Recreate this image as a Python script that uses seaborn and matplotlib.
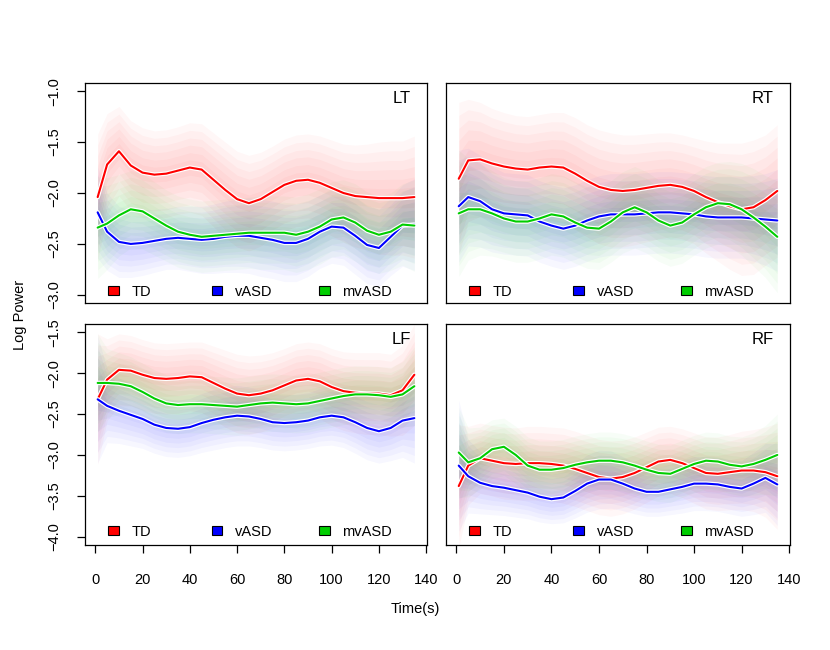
import numpy as np
import pandas as pd
import matplotlib.pyplot as plt
import matplotlib.patheffects as pe
from matplotlib.patches import Patch
import seaborn as sns

# time axis (s)
time_s = [1, 5, 10, 15, 20, 25, 30, 35, 40, 45, 50, 55, 60, 65, 70,
          75, 80, 85, 90, 95, 100, 105, 110, 115, 120, 125, 130, 135]

groups = ["TD", "vASD", "mvASD"]
panels = ["LT", "RT", "LF", "RF"]

# mean log power per group / panel
lt_td = [-2.04, -1.72, -1.59, -1.73, -1.80, -1.82, -1.81, -1.78, -1.75, -1.77, -1.87, -1.97, -2.06, -2.10,
         -2.06, -1.99, -1.92, -1.88, -1.87, -1.90, -1.95, -2.00, -2.03, -2.04, -2.05, -2.05, -2.05, -2.04]
lt_vasd = [-2.19, -2.38, -2.48, -2.50, -2.49, -2.47, -2.45, -2.44, -2.45, -2.46, -2.45, -2.43, -2.42, -2.42,
           -2.44, -2.46, -2.49, -2.49, -2.45, -2.38, -2.33, -2.34, -2.42, -2.51, -2.54, -2.43, -2.32, -2.31]
lt_mvasd = [-2.34, -2.30, -2.22, -2.16, -2.18, -2.25, -2.32, -2.38, -2.41, -2.43, -2.42, -2.41, -2.40, -2.39,
            -2.39, -2.39, -2.39, -2.41, -2.38, -2.33, -2.26, -2.24, -2.29, -2.37, -2.41, -2.38, -2.31, -2.32]

rt_td = [-1.86, -1.68, -1.67, -1.71, -1.74, -1.76, -1.77, -1.75, -1.74, -1.75, -1.81, -1.88, -1.94, -1.97,
         -1.98, -1.97, -1.95, -1.93, -1.92, -1.94, -1.98, -2.04, -2.09, -2.13, -2.16, -2.14, -2.07, -1.98]
rt_vasd = [-2.13, -2.04, -2.08, -2.16, -2.20, -2.21, -2.22, -2.28, -2.32, -2.35, -2.32, -2.27, -2.23, -2.21,
           -2.21, -2.21, -2.20, -2.19, -2.19, -2.20, -2.21, -2.23, -2.24, -2.24, -2.24, -2.25, -2.26, -2.27]
rt_mvasd = [-2.20, -2.16, -2.16, -2.20, -2.25, -2.28, -2.28, -2.25, -2.21, -2.23, -2.29, -2.34, -2.35, -2.28,
            -2.19, -2.14, -2.19, -2.27, -2.32, -2.29, -2.21, -2.14, -2.10, -2.11, -2.16, -2.24, -2.33, -2.43]

lf_td = [-2.32, -2.08, -1.96, -1.97, -2.02, -2.06, -2.07, -2.06, -2.04, -2.05, -2.12, -2.19, -2.25, -2.27,
         -2.25, -2.21, -2.15, -2.09, -2.07, -2.10, -2.17, -2.22, -2.24, -2.25, -2.25, -2.27, -2.21, -2.02]
lf_vasd = [-2.32, -2.40, -2.46, -2.51, -2.56, -2.63, -2.67, -2.68, -2.66, -2.61, -2.57, -2.54, -2.52, -2.53,
           -2.56, -2.60, -2.61, -2.60, -2.58, -2.54, -2.52, -2.54, -2.60, -2.67, -2.71, -2.67, -2.58, -2.55]
lf_mvasd = [-2.12, -2.12, -2.13, -2.16, -2.23, -2.31, -2.37, -2.39, -2.38, -2.38, -2.39, -2.40, -2.41, -2.39,
            -2.37, -2.36, -2.37, -2.38, -2.37, -2.34, -2.31, -2.28, -2.26, -2.26, -2.27, -2.29, -2.26, -2.16]

rf_td = [-3.38, -3.13, -3.04, -3.07, -3.10, -3.11, -3.10, -3.10, -3.11, -3.13, -3.17, -3.22, -3.27, -3.29,
         -3.27, -3.22, -3.15, -3.08, -3.06, -3.10, -3.16, -3.22, -3.23, -3.21, -3.19, -3.19, -3.21, -3.26]
rf_vasd = [-3.13, -3.26, -3.34, -3.38, -3.40, -3.43, -3.46, -3.51, -3.54, -3.52, -3.44, -3.35, -3.30, -3.30,
           -3.35, -3.41, -3.45, -3.45, -3.42, -3.39, -3.35, -3.35, -3.36, -3.39, -3.41, -3.35, -3.28, -3.36]
rf_mvasd = [-2.97, -3.09, -3.04, -2.93, -2.90, -3.00, -3.13, -3.18, -3.18, -3.16, -3.12, -3.09, -3.07, -3.07,
            -3.09, -3.13, -3.18, -3.22, -3.23, -3.17, -3.11, -3.07, -3.08, -3.12, -3.14, -3.11, -3.06, -3.00]

# outer half-width of the shaded bands
lt_td_sd = [0.62, 0.50, 0.44, 0.44, 0.44, 0.43, 0.43, 0.43, 0.44, 0.45, 0.46, 0.47, 0.47, 0.47,
            0.46, 0.45, 0.45, 0.45, 0.45, 0.46, 0.47, 0.48, 0.50, 0.52, 0.55, 0.56, 0.56, 0.60]
lt_vasd_sd = [0.45, 0.38, 0.35, 0.33, 0.32, 0.31, 0.30, 0.31, 0.32, 0.33, 0.34, 0.35, 0.36, 0.37,
              0.38, 0.38, 0.38, 0.38, 0.37, 0.36, 0.36, 0.37, 0.38, 0.38, 0.38, 0.38, 0.40, 0.45]
lt_mvasd_sd = [0.50, 0.45, 0.40, 0.38, 0.37, 0.36, 0.35, 0.35, 0.35, 0.35, 0.35, 0.35, 0.35, 0.35,
               0.36, 0.36, 0.36, 0.37, 0.37, 0.37, 0.37, 0.37, 0.38, 0.38, 0.38, 0.38, 0.40, 0.45]

rt_td_sd = [0.75, 0.60, 0.56, 0.54, 0.53, 0.52, 0.52, 0.52, 0.53, 0.54, 0.55, 0.55, 0.56, 0.56,
            0.55, 0.54, 0.53, 0.52, 0.51, 0.51, 0.52, 0.55, 0.58, 0.62, 0.65, 0.66, 0.64, 0.65]
rt_vasd_sd = [0.55, 0.48, 0.45, 0.42, 0.40, 0.40, 0.40, 0.40, 0.40, 0.40, 0.40, 0.40, 0.40, 0.40,
              0.40, 0.40, 0.40, 0.40, 0.40, 0.40, 0.40, 0.40, 0.40, 0.40, 0.40, 0.42, 0.45, 0.50]
rt_mvasd_sd = [0.62, 0.50, 0.45, 0.42, 0.40, 0.40, 0.40, 0.40, 0.40, 0.40, 0.40, 0.40, 0.40, 0.40,
               0.40, 0.40, 0.40, 0.40, 0.40, 0.40, 0.40, 0.40, 0.40, 0.42, 0.45, 0.48, 0.50, 0.55]

lf_td_sd = [0.80, 0.50, 0.44, 0.43, 0.43, 0.43, 0.43, 0.43, 0.42, 0.43, 0.45, 0.47, 0.48, 0.48,
            0.47, 0.46, 0.45, 0.45, 0.45, 0.46, 0.47, 0.48, 0.49, 0.50, 0.50, 0.50, 0.55, 0.62]
lf_vasd_sd = [0.78, 0.45, 0.40, 0.38, 0.36, 0.35, 0.35, 0.35, 0.35, 0.36, 0.37, 0.37, 0.37, 0.36,
              0.35, 0.34, 0.34, 0.34, 0.34, 0.35, 0.36, 0.37, 0.38, 0.39, 0.39, 0.40, 0.45, 0.55]
lf_mvasd_sd = [0.60, 0.42, 0.38, 0.36, 0.35, 0.35, 0.35, 0.35, 0.35, 0.35, 0.35, 0.35, 0.35, 0.35,
               0.35, 0.35, 0.35, 0.35, 0.35, 0.35, 0.35, 0.35, 0.35, 0.35, 0.35, 0.36, 0.40, 0.48]

rf_td_sd = [0.75, 0.48, 0.43, 0.43, 0.44, 0.44, 0.45, 0.45, 0.45, 0.46, 0.46, 0.46, 0.46, 0.46,
            0.45, 0.44, 0.43, 0.42, 0.41, 0.42, 0.43, 0.44, 0.45, 0.46, 0.48, 0.50, 0.55, 0.65]
rf_vasd_sd = [0.80, 0.45, 0.38, 0.35, 0.34, 0.33, 0.32, 0.31, 0.30, 0.31, 0.33, 0.35, 0.36, 0.35,
              0.33, 0.31, 0.30, 0.30, 0.31, 0.32, 0.33, 0.33, 0.33, 0.33, 0.34, 0.38, 0.42, 0.50]
rf_mvasd_sd = [0.55, 0.42, 0.38, 0.36, 0.35, 0.35, 0.35, 0.35, 0.35, 0.35, 0.35, 0.35, 0.35, 0.35,
               0.35, 0.35, 0.35, 0.35, 0.35, 0.35, 0.35, 0.35, 0.35, 0.35, 0.36, 0.38, 0.42, 0.50]

# long table for seaborn
means = {"LT": [lt_td, lt_vasd, lt_mvasd], "RT": [rt_td, rt_vasd, rt_mvasd],
         "LF": [lf_td, lf_vasd, lf_mvasd], "RF": [rf_td, rf_vasd, rf_mvasd]}
sds = {"LT": [lt_td_sd, lt_vasd_sd, lt_mvasd_sd], "RT": [rt_td_sd, rt_vasd_sd, rt_mvasd_sd],
       "LF": [lf_td_sd, lf_vasd_sd, lf_mvasd_sd], "RF": [rf_td_sd, rf_vasd_sd, rf_mvasd_sd]}
rows = []
for p in panels:
    for g, m, s in zip(groups, means[p], sds[p]):
        for t, mv, sv in zip(time_s, m, s):
            rows.append({"panel": p, "group": g, "time": t, "power": mv, "sd": sv})
df = pd.DataFrame(rows)

sns.set_style("white")
plt.rcParams["font.family"] = ["Liberation Sans", "DejaVu Sans"]
plt.rcParams["text.color"] = "black"
plt.rcParams["axes.labelcolor"] = "black"

palette = {"TD": "#FF0000", "vASD": "#0000FF", "mvASD": "#00CD00"}
band_levels = [1.0, 0.83, 0.66, 0.5, 0.33, 0.17]

W, H = 830, 650
fig = plt.figure(figsize=(W / 100, H / 100), dpi=100)

# panel boxes in pixels (left, top, right, bottom)
boxes = {"LT": (85, 83, 427, 303), "RT": (446, 83, 790, 303),
         "LF": (85, 324, 427, 545), "RF": (446, 324, 790, 545)}

for p in panels:
    l, t, r, b = boxes[p]
    ax = fig.add_axes([l / W, 1 - b / H, (r - l) / W, (b - t) / H])
    sub = df[df["panel"] == p]
    for g in groups:
        d = sub[sub["group"] == g]
        for k in band_levels:
            ax.fill_between(d["time"], d["power"] - k * d["sd"], d["power"] + k * d["sd"],
                            color=palette[g], alpha=0.033, lw=0)
    sns.lineplot(data=sub, x="time", y="power", hue="group", hue_order=groups,
                 palette=palette, lw=1.5, legend=False, ax=ax,
                 solid_joinstyle="round", solid_capstyle="round",
                 path_effects=[pe.Stroke(linewidth=3.2, foreground="white"), pe.Normal()])

    ax.set_xlim(-4.36, 140.36)
    if p in ("LT", "RT"):
        ax.set_ylim(-3.08, -0.92)
        ax.set_yticks(np.arange(-3.0, -0.99, 0.5))
    else:
        ax.set_ylim(-4.1, -1.4)
        ax.set_yticks(np.arange(-4.0, -1.49, 0.5))
    ax.set_xticks(range(0, 141, 20))
    ax.set_xlabel("")
    ax.set_ylabel("")
    for sp in ax.spines.values():
        sp.set_color("black")
        sp.set_linewidth(0.9)
    ax.tick_params(axis="both", direction="out", length=6, width=0.9, color="black",
                   labelsize=10.5, labelcolor="black")
    ax.tick_params(axis="x", pad=14, bottom=p in ("LF", "RF"), labelbottom=p in ("LF", "RF"))
    ax.tick_params(axis="y", pad=11, left=p in ("LT", "LF"), labelleft=p in ("LT", "LF"))
    if p in ("LT", "LF"):
        for lab in ax.get_yticklabels():
            lab.set_rotation(90)
            lab.set_va("center")

    ax.text(0.952, 0.93, p, transform=ax.transAxes, ha="right", va="center",
            fontsize=12, color="black")

    ypos = 0.05 if p in ("LT", "RT") else 0.059
    for i, (g, xpos) in enumerate(zip(groups, [0.068, 0.37, 0.683])):
        h = Patch(facecolor=palette[g], edgecolor="black", lw=0.8)
        leg = ax.legend(handles=[h], labels=[g], loc="center left", bbox_to_anchor=(xpos, ypos),
                        frameon=False, borderpad=0, borderaxespad=0, handlelength=0.75,
                        handleheight=0.6, handletextpad=0.85, fontsize=10.5, labelcolor="black")
        if i < len(groups) - 1:
            ax.add_artist(leg)

fig.text(20 / W, 1 - 315 / H, "Log Power", rotation=90, ha="center", va="center",
         fontsize=10.5, color="black")
fig.text(415 / W, 1 - 609 / H, "Time(s)", ha="center", va="center", fontsize=10.5, color="black")

fig.savefig("out.png", dpi=100, facecolor="white")
